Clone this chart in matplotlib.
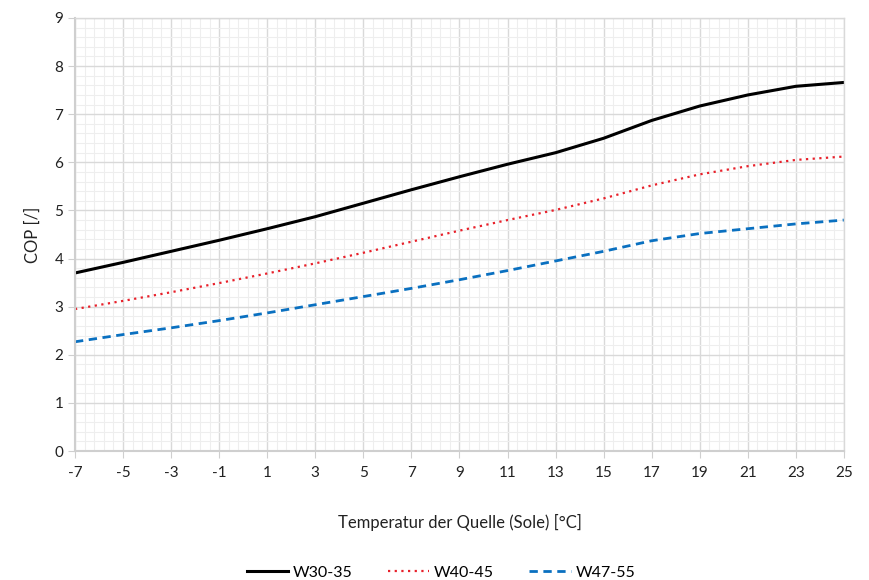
import matplotlib
matplotlib.use("Agg")
import matplotlib.pyplot as plt
from matplotlib.ticker import MultipleLocator

plt.rcParams['font.family'] = ['Lato', 'DejaVu Sans']
plt.rcParams['axes.unicode_minus'] = False

# Quelltemperatur (Sole) in °C
temps = [-7, -5, -3, -1, 1, 3, 5, 7, 9, 11, 13, 15, 17, 19, 21, 23, 25]
# COP Werte je Vorlauf
cop_w30_35 = [3.70, 3.92, 4.15, 4.38, 4.62, 4.87, 5.15, 5.43, 5.70, 5.96, 6.20, 6.50, 6.87, 7.17, 7.40, 7.58, 7.66]
cop_w40_45 = [2.95, 3.12, 3.30, 3.49, 3.69, 3.90, 4.12, 4.35, 4.58, 4.80, 5.01, 5.25, 5.52, 5.75, 5.92, 6.05, 6.12]
cop_w47_55 = [2.27, 2.42, 2.56, 2.71, 2.87, 3.04, 3.21, 3.38, 3.56, 3.75, 3.95, 4.15, 4.37, 4.52, 4.62, 4.72, 4.80]
series_names = ['W30-35', 'W40-45', 'W47-55']

fig = plt.figure(figsize=(8.7, 5.8), dpi=100)
ax = fig.add_axes([0.0862, 0.2224, 0.8838, 0.7466])

ax.plot(temps, cop_w30_35, color='black', lw=2.2, label=series_names[0])
ax.plot(temps, cop_w40_45, color='#e8202a', lw=1.6, linestyle=(0, (1, 2)), label=series_names[1])
ax.plot(temps, cop_w47_55, color='#0a70c0', lw=2.0, linestyle=(0, (3, 2)), label=series_names[2])

ax.set_xlim(-7, 25)
ax.set_ylim(0, 9)
ax.set_xticks(temps)
ax.set_xticklabels([str(t) for t in temps])
ax.xaxis.set_minor_locator(MultipleLocator(0.4, offset=0.2))
ax.yaxis.set_major_locator(MultipleLocator(1))
ax.yaxis.set_minor_locator(MultipleLocator(0.2))

ax.grid(which='major', color='#d9d9d9', lw=1.0)
ax.grid(which='minor', color='#eeeeee', lw=0.8)
ax.set_axisbelow(True)

for s in ['top', 'right']:
    ax.spines[s].set_color('#d9d9d9')
    ax.spines[s].set_linewidth(1.0)
for s in ['left', 'bottom']:
    ax.spines[s].set_color('#cfcfcf')
    ax.spines[s].set_linewidth(1.5)

ax.tick_params(which='major', length=5, color='#cfcfcf', labelsize=11, labelcolor='#222222')
ax.tick_params(which='minor', length=0)
ax.tick_params(axis='x', pad=6)

ax.set_xlabel('Temperatur der Quelle (Sole) [°C]', fontsize=12, color='#222222', labelpad=24)
ax.set_ylabel('COP [/]', fontsize=12, color='#222222', labelpad=10)

fig.legend(loc='center', bbox_to_anchor=(0.507, 0.013), ncol=3, frameon=False,
           fontsize=11.5, handlelength=2.6, columnspacing=2.2, handletextpad=0.3)

fig.savefig('out.png', dpi=100)
